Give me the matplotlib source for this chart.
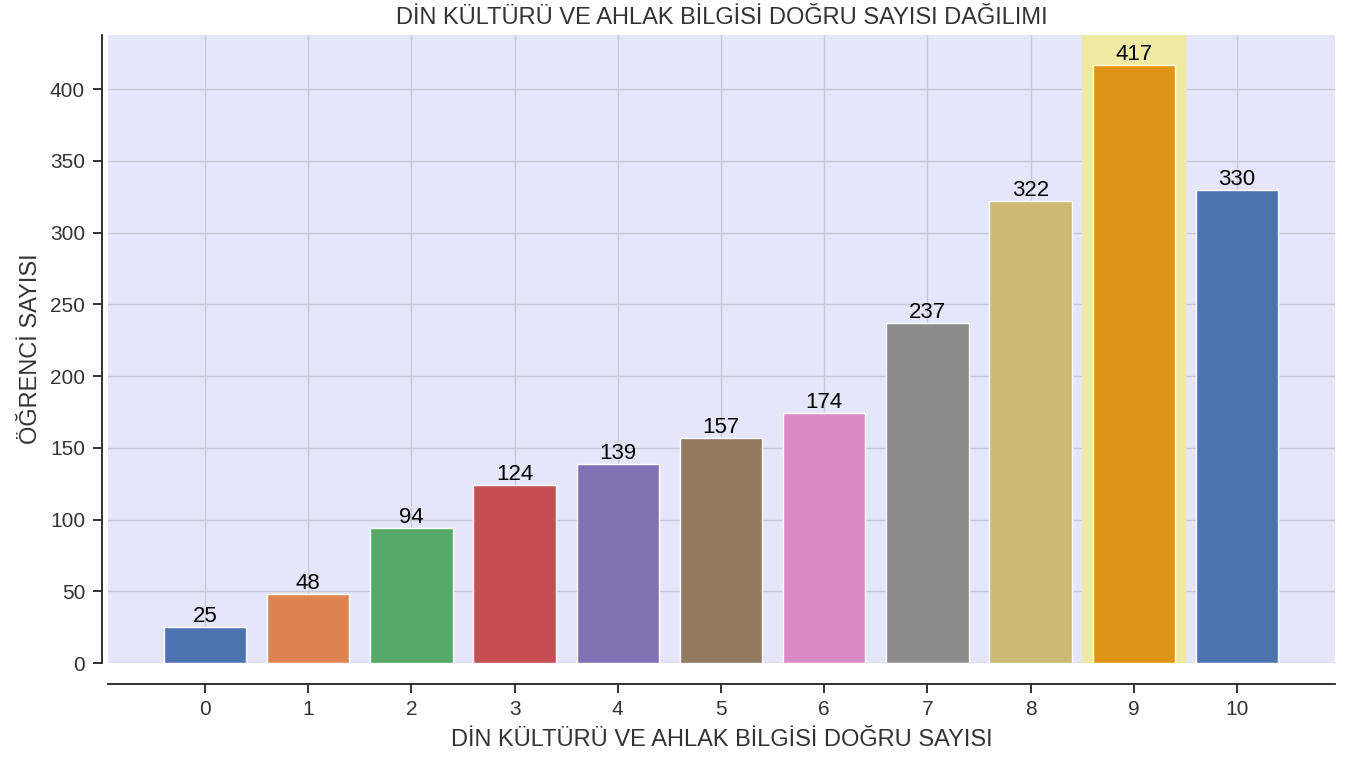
import matplotlib
matplotlib.use("Agg")
import numpy as np
import seaborn as sns
from matplotlib import pyplot as plt

dogru_sayisi = list(range(11))
ogrenci_sayisi = [25, 48, 94, 124, 139, 157, 174, 237, 322, 417, 330]
en_cok = 9

sns.set_theme(style="ticks")
plt.rcParams['font.family'] = ['Liberation Sans', 'DejaVu Sans']

renkler = sns.color_palette("deep", 10)
renkler = [renkler[i % 10] for i in dogru_sayisi]
renkler[en_cok] = "#de9316"

fig, ax = plt.subplots(figsize=(13.57, 7.6), dpi=100)
fig.subplots_adjust(left=0.0796, right=0.9838, top=0.954, bottom=0.1276)
ax.set_facecolor("lavender")
ax.grid(True, color="#c8c8d8", linewidth=1)
ax.set_axisbelow(True)

ax.axvspan(en_cok - 0.5, en_cok + 0.5, color="#efe9a3", zorder=1)
bars = ax.bar(dogru_sayisi, ogrenci_sayisi, width=0.8, color=renkler,
              edgecolor="white", linewidth=1, zorder=2)
for b, v in zip(bars, ogrenci_sayisi):
    ax.text(b.get_x() + b.get_width() / 2, v, str(v), ha="center", va="bottom",
            fontsize=16, color="black", zorder=3)

ax.set_xlim(-0.94, 10.95)
ax.set_ylim(0, max(ogrenci_sayisi) * 1.05)
ax.set_xticks(dogru_sayisi)
ax.set_yticks(np.arange(0, 401, 50))
ax.tick_params(labelsize=15, colors="#333333")
ax.tick_params(axis="both", length=6.5, width=1.3, color="#222222")
ax.tick_params(axis="x", pad=5)
ax.tick_params(axis="y", pad=6)

sns.despine(ax=ax)
ax.spines["left"].set_position(("outward", 4))
ax.spines["bottom"].set_position(("outward", 15))
for s in ("left", "bottom"):
    ax.spines[s].set_color("#222222")
    ax.spines[s].set_linewidth(1.3)

ax.set_title("DİN KÜLTÜRÜ VE AHLAK BİLGİSİ DOĞRU SAYISI DAĞILIMI",
             fontsize=17, color="#333333", pad=8)
ax.set_xlabel("DİN KÜLTÜRÜ VE AHLAK BİLGİSİ DOĞRU SAYISI", fontsize=17,
              color="#333333", labelpad=7)
ax.set_ylabel("ÖĞRENCİ SAYISI", fontsize=17, color="#333333", labelpad=6)

plt.savefig("out.png", dpi=100)
